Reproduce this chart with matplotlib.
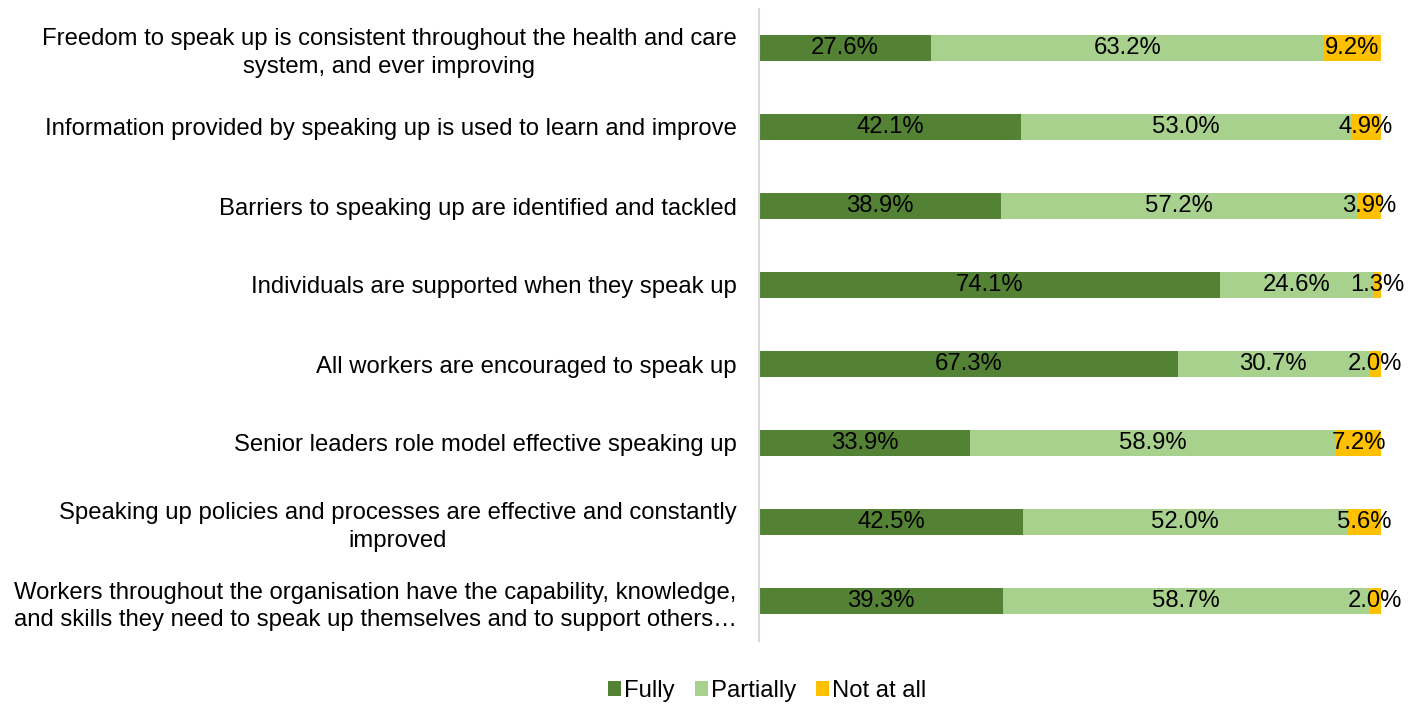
import matplotlib.pyplot as plt
from matplotlib.patches import Patch
import numpy as np

plt.rcParams["font.family"] = ["Liberation Sans", "DejaVu Sans"]

# ---------------------------------
# Survey data (share of responses, %)
# ---------------------------------
statements = [
    "Freedom to speak up is consistent throughout the health and care\nsystem, and ever improving",
    "Information provided by speaking up is used to learn and improve",
    "Barriers to speaking up are identified and tackled",
    "Individuals are supported when they speak up",
    "All workers are encouraged to speak up",
    "Senior leaders role model effective speaking up",
    "Speaking up policies and processes are effective and constantly\nimproved",
    "Workers throughout the organisation have the capability, knowledge,\nand skills they need to speak up themselves and to support others\u2026",
]
fully = [27.6, 42.1, 38.9, 74.1, 67.3, 33.9, 42.5, 39.3]
partially = [63.2, 53.0, 57.2, 24.6, 30.7, 58.9, 52.0, 58.7]
not_at_all = [9.2, 4.9, 3.9, 1.3, 2.0, 7.2, 5.6, 2.0]

series_names = ["Fully", "Partially", "Not at all"]
colors = ["#548235", "#A9D18E", "#FFC000"]

FS = 17.2

# ---------------------------------
# Figure
# ---------------------------------
fig = plt.figure(figsize=(14.18, 7.04), dpi=100)
ax = fig.add_axes([759 / 1418, 1 - 640.5 / 704, (1381 - 759) / 1418, 632 / 704])

y = np.arange(len(statements))
left = np.zeros(len(statements))
for name, vals, col in zip(series_names, [fully, partially, not_at_all], colors):
    vals = np.array(vals)
    ax.barh(y, vals, left=left, height=0.32, color=col, label=name)
    for yi, l, v in zip(y, left, vals):
        ax.text(l + v / 2, yi, f"{v:.1f}%", ha="center", va="center",
                fontsize=FS, color="black")
    left += vals

ax.set_xlim(0, 100)
ax.set_ylim(len(statements) - 0.5, -0.5)
ax.set_xticks([])
ax.set_yticks(y)
ax.set_yticklabels(statements, fontsize=FS, linespacing=1.32)
ax.tick_params(axis="y", length=0, pad=16)
for lbl in ax.get_yticklabels():
    lbl.set_multialignment("center")

for side in ["top", "right", "bottom"]:
    ax.spines[side].set_visible(False)
ax.spines["left"].set_color("#D9D9D9")
ax.spines["left"].set_linewidth(1.5)

handles = [Patch(facecolor=c, label=n) for n, c in zip(series_names, colors)]
fig.legend(handles=handles, loc="center", bbox_to_anchor=(767 / 1418, 1 - 691 / 704),
           ncol=3, frameon=False, fontsize=FS, handlelength=0.55, handleheight=0.55,
           handletextpad=0.12, columnspacing=0.85, borderaxespad=0)

fig.savefig("out.png", dpi=100)
